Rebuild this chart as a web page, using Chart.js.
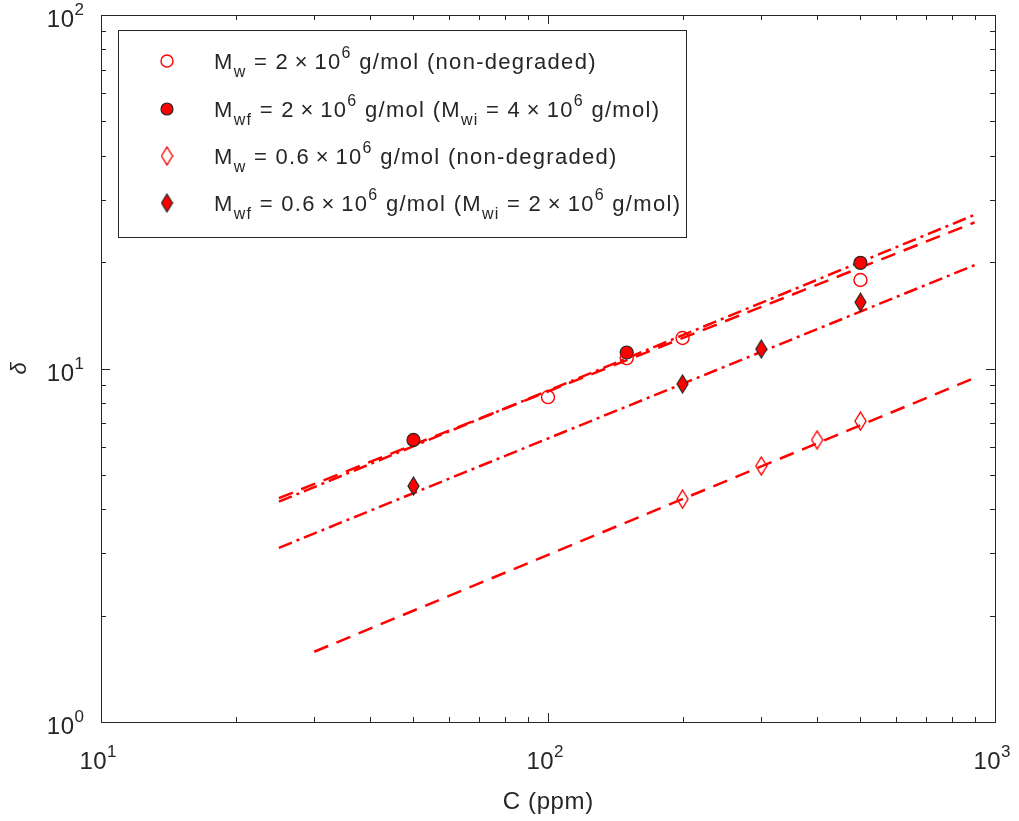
<!DOCTYPE html>
<html>
<head>
<meta charset="utf-8">
<script src="https://cdn.jsdelivr.net/npm/chart.js@4"></script>
<style>
  html, body { margin: 0; padding: 0; background: #fff; }
  #wrap { width: 1019px; height: 821px; }
</style>
</head>
<body>
<div id="wrap"><canvas id="deltaChart" width="1019" height="821"></canvas></div>
<script>
// axis ranges and decade ticks
const xRange = [10, 1000];
const yRange = [1, 100];
const xTicks = [10, 100, 1000];
const yTicks = [1, 10, 100];
const xMinor = [20, 30, 40, 50, 60, 70, 80, 90, 200, 300, 400, 500, 600, 700, 800, 900];
const yMinor = [2, 3, 4, 5, 6, 7, 8, 9, 20, 30, 40, 50, 60, 70, 80, 90];

// measured points (C in ppm, delta)
const concOpen2M = [100, 150, 200, 500];
const deltaOpen2M = [8.3, 10.7, 12.2, 17.8];
const concFilled2M = [50, 150, 500];
const deltaFilled2M = [6.28, 11.1, 19.9];
const concOpen06M = [200, 300, 400, 500];
const deltaOpen06M = [4.27, 5.3, 6.28, 7.1];
const concFilled06M = [50, 200, 300, 500];
const deltaFilled06M = [4.65, 9.04, 11.35, 15.4];

// power-law fit lines (end points)
const fitConcWide = [25, 900];
const fitOpen2M = [4.3, 25.9];
const fitFilled2M = [4.2, 27.2];
const fitFilled06M = [3.11, 19.6];
const fitConcNarrow = [30, 900];
const fitOpen06M = [1.58, 9.4];

const RED = '#ff0000';
const INK = '#262626';
const FONT = '"Liberation Sans", Arial, Helvetica, sans-serif';

const DASHED = [15, 9];
const DASHDOT = [14, 5, 3, 5];

function pts(xs, ys) {
    return xs.map((x, i) => ({ x: x, y: ys[i] }));
}

function makeDiamond(filled) {
    const w = 13, h = 20;
    const c = document.createElement('canvas');
    c.width = w; c.height = h;
    const g = c.getContext('2d');
    g.beginPath();
    g.moveTo(w / 2, 1);
    g.lineTo(w - 1, h / 2);
    g.lineTo(w / 2, h - 1);
    g.lineTo(1, h / 2);
    g.closePath();
    if (filled) {
        g.fillStyle = RED;
        g.fill();
        g.strokeStyle = INK;
        g.lineWidth = 1.2;
    } else {
        g.strokeStyle = RED;
        g.lineWidth = 1.4;
    }
    g.stroke();
    return c;
}

const diamondOpen = makeDiamond(false);
const diamondFilled = makeDiamond(true);

// text with sub / superscripts: [text, level] level -1 sub, 0 normal, 1 sup
// drawn char by char so the slightly loose MATLAB spacing can be matched
function richWidth(ctx, parts, st) {
    let w = 0;
    parts.forEach(p => {
        ctx.font = (p[1] === 0 ? st.size : st.small) + 'px ' + FONT;
        for (const ch of p[0]) w += ctx.measureText(ch).width + st.spacing;
    });
    return w - st.spacing;
}

function drawRich(ctx, parts, x, y, st, align) {
    const total = richWidth(ctx, parts, st);
    let cx = x;
    if (align === 'center') cx = x - total / 2;
    if (align === 'right') cx = x - total;
    ctx.textAlign = 'left';
    ctx.textBaseline = 'alphabetic';
    parts.forEach(p => {
        ctx.font = (p[1] === 0 ? st.size : st.small) + 'px ' + FONT;
        let dy = 0;
        if (p[1] === 1) dy = -st.rise;
        if (p[1] === -1) dy = st.drop;
        for (const ch of p[0]) {
            ctx.fillText(ch, cx, y + dy);
            cx += ctx.measureText(ch).width + st.spacing;
        }
    });
}

const tickStyle = { size: 24, small: 17, spacing: 0.5, rise: 12, drop: 0 };
const titleStyle = { size: 24, small: 17, spacing: 0.6, rise: 0, drop: 0 };
const legendStyle = { size: 22, small: 16, spacing: 1.3, rise: 11, drop: 8 };

const TIMES = '\u2009\u00d7\u2009';
const legendRows = [
    { marker: 'openCircle', text: [['M', 0], ['w', -1], [' = 2' + TIMES + '10', 0], ['6', 1], [' g/mol (non-degraded)', 0]] },
    { marker: 'filledCircle', text: [['M', 0], ['wf', -1], [' = 2' + TIMES + '10', 0], ['6', 1], [' g/mol (M', 0], ['wi', -1], [' = 4' + TIMES + '10', 0], ['6', 1], [' g/mol)', 0]] },
    { marker: 'openDiamond', text: [['M', 0], ['w', -1], [' = 0.6' + TIMES + '10', 0], ['6', 1], [' g/mol (non-degraded)', 0]] },
    { marker: 'filledDiamond', text: [['M', 0], ['wf', -1], [' = 0.6' + TIMES + '10', 0], ['6', 1], [' g/mol (M', 0], ['wi', -1], [' = 2' + TIMES + '10', 0], ['6', 1], [' g/mol)', 0]] }
];

function drawMarker(ctx, kind, x, y) {
    ctx.save();
    if (kind === 'openCircle' || kind === 'filledCircle') {
        ctx.beginPath();
        ctx.arc(x, y, 6, 0, Math.PI * 2);
        if (kind === 'filledCircle') {
            ctx.fillStyle = RED;
            ctx.fill();
            ctx.strokeStyle = INK;
            ctx.lineWidth = 1.2;
        } else {
            ctx.strokeStyle = RED;
            ctx.lineWidth = 1.4;
        }
        ctx.stroke();
    } else {
        const img = kind === 'openDiamond' ? diamondOpen : diamondFilled;
        ctx.drawImage(img, x - img.width / 2, y - img.height / 2);
    }
    ctx.restore();
}

const framePlugin = {
    id: 'matlabFrame',
    afterDraw(chart) {
        const ctx = chart.ctx;
        const a = chart.chartArea;
        const xs = chart.scales.x;
        const ys = chart.scales.y;
        ctx.save();

        // box
        ctx.strokeStyle = INK;
        ctx.lineWidth = 1;
        ctx.strokeRect(Math.round(a.left) + 0.5, Math.round(a.top) + 0.5,
            Math.round(a.right - a.left), Math.round(a.bottom - a.top));

        // inward ticks on all four sides
        ctx.beginPath();
        const tickX = (v, len) => {
            const px = Math.round(xs.getPixelForValue(v)) + 0.5;
            ctx.moveTo(px, a.bottom); ctx.lineTo(px, a.bottom - len);
            ctx.moveTo(px, a.top); ctx.lineTo(px, a.top + len);
        };
        const tickY = (v, len) => {
            const py = Math.round(ys.getPixelForValue(v)) + 0.5;
            ctx.moveTo(a.left, py); ctx.lineTo(a.left + len, py);
            ctx.moveTo(a.right, py); ctx.lineTo(a.right - len, py);
        };
        xTicks.forEach(v => tickX(v, 9));
        xMinor.forEach(v => tickX(v, 5));
        yTicks.forEach(v => tickY(v, 9));
        yMinor.forEach(v => tickY(v, 5));
        ctx.stroke();

        // tick labels
        ctx.fillStyle = INK;
        xTicks.forEach(v => {
            const px = xs.getPixelForValue(v);
            drawRich(ctx, [['10', 0], [String(Math.round(Math.log10(v))), 1]],
                px - 3, a.bottom + 47, tickStyle, 'center');
        });
        yTicks.forEach(v => {
            const py = ys.getPixelForValue(v);
            drawRich(ctx, [['10', 0], [String(Math.round(Math.log10(v))), 1]],
                a.left - 17, py + 12, tickStyle, 'right');
        });

        // axis titles
        drawRich(ctx, [['C (ppm)', 0]], (a.left + a.right) / 2, a.bottom + 87, titleStyle, 'center');

        ctx.save();
        ctx.translate(20, (a.top + a.bottom) / 2);
        ctx.rotate(-Math.PI / 2);
        ctx.font = 'italic 22px ' + FONT;
        ctx.textAlign = 'center';
        ctx.textBaseline = 'middle';
        ctx.fillText('\u03b4', 0, 0);
        ctx.restore();

        // legend box
        const lx = 118, ly = 30, lw = 568, lh = 207;
        ctx.fillStyle = '#fff';
        ctx.fillRect(lx, ly, lw, lh);
        ctx.strokeStyle = INK;
        ctx.lineWidth = 1;
        ctx.strokeRect(lx + 0.5, ly + 0.5, lw, lh);
        const rowY = [61, 109, 156, 203];
        legendRows.forEach((row, i) => {
            drawMarker(ctx, row.marker, 167, rowY[i]);
            ctx.fillStyle = INK;
            drawRich(ctx, row.text, 214, rowY[i] + 8, legendStyle, 'left');
        });

        ctx.restore();
    }
};

const ctx = document.getElementById('deltaChart').getContext('2d');
new Chart(ctx, {
    type: 'scatter',
    data: {
        datasets: [
            {
                label: 'Mw = 2e6 (non-degraded)',
                data: pts(concOpen2M, deltaOpen2M),
                pointStyle: 'circle', pointRadius: 6.5, pointHoverRadius: 6.5,
                borderColor: RED, backgroundColor: 'rgba(0,0,0,0)', borderWidth: 1.4
            },
            {
                label: 'Mwf = 2e6 (Mwi = 4e6)',
                data: pts(concFilled2M, deltaFilled2M),
                pointStyle: 'circle', pointRadius: 6.5, pointHoverRadius: 6.5,
                borderColor: INK, backgroundColor: RED, borderWidth: 1.2
            },
            {
                label: 'Mw = 0.6e6 (non-degraded)',
                data: pts(concOpen06M, deltaOpen06M),
                pointStyle: diamondOpen, pointRadius: 10
            },
            {
                label: 'Mwf = 0.6e6 (Mwi = 2e6)',
                data: pts(concFilled06M, deltaFilled06M),
                pointStyle: diamondFilled, pointRadius: 10
            },
            {
                label: 'fit open 2e6',
                data: pts(fitConcWide, fitOpen2M),
                showLine: true, pointRadius: 0, borderColor: RED, borderWidth: 2.5,
                borderDash: DASHED, borderCapStyle: 'butt'
            },
            {
                label: 'fit filled 2e6',
                data: pts(fitConcWide, fitFilled2M),
                showLine: true, pointRadius: 0, borderColor: RED, borderWidth: 2.5,
                borderDash: DASHDOT, borderCapStyle: 'butt'
            },
            {
                label: 'fit filled 0.6e6',
                data: pts(fitConcWide, fitFilled06M),
                showLine: true, pointRadius: 0, borderColor: RED, borderWidth: 2.5,
                borderDash: DASHDOT, borderCapStyle: 'butt'
            },
            {
                label: 'fit open 0.6e6',
                data: pts(fitConcNarrow, fitOpen06M),
                showLine: true, pointRadius: 0, borderColor: RED, borderWidth: 2.5,
                borderDash: DASHED, borderCapStyle: 'butt'
            }
        ]
    },
    options: {
        responsive: false,
        animation: false,
        layout: { padding: { left: 101, right: 24, top: 15, bottom: 99 } },
        plugins: {
            legend: { display: false },
            tooltip: { enabled: false }
        },
        scales: {
            x: { type: 'logarithmic', min: xRange[0], max: xRange[1], display: false },
            y: { type: 'logarithmic', min: yRange[0], max: yRange[1], display: false }
        }
    },
    plugins: [framePlugin]
});
</script>
</body>
</html>
